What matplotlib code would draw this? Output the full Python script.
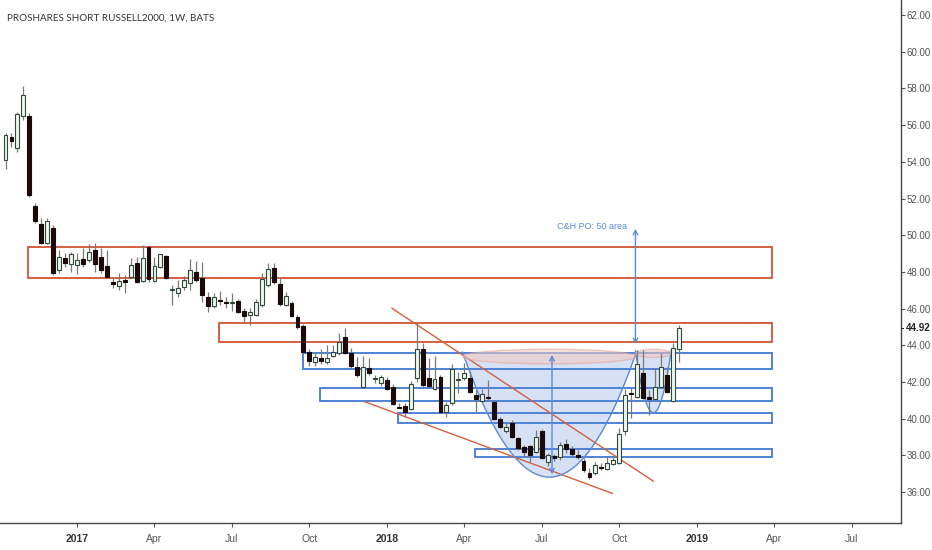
import numpy as np
import pandas as pd
import matplotlib
matplotlib.use('Agg')
import matplotlib.pyplot as plt
import matplotlib.dates as mdates
from matplotlib.patches import Rectangle, Ellipse
import matplotlib.transforms as mtransforms

# weekly bars, RWM (BATS)
start = '2016-10-10'
opens = [54.10, 55.35, 54.75, 56.50, 56.50, 51.59, 50.61, 49.57, 50.39, 48.10,
         48.76, 48.43, 48.38, 48.70, 48.65, 49.19, 48.81, 48.32, 47.45, 47.23,
         47.56, 47.72, 48.49, 47.50, 49.36, 47.50, 48.27, 48.87, 47.00, 46.85,
         47.18, 47.40, 47.99, 47.67, 46.63, 46.14, 46.47, 46.36, 46.30, 46.41,
         45.87, 45.65, 45.65, 46.20, 47.29, 48.21, 47.34, 46.20, 46.30, 45.54,
         45.05, 43.63, 43.09, 43.30, 43.09, 43.41, 43.58, 44.45, 43.58, 42.82,
         41.73, 42.76, 42.16, 41.95, 42.11, 41.73, 40.66, 40.69, 40.53, 42.22,
         43.80, 42.22, 41.62, 42.27, 40.36, 40.85, 42.10, 42.22, 42.22, 41.29,
         40.96, 41.18, 40.90, 39.98, 39.33, 39.77, 38.95, 38.46, 38.51, 38.18,
         39.33, 37.64, 37.97, 37.91, 38.62, 38.35, 38.02, 37.70, 37.04, 37.04,
         37.37, 37.26, 37.53, 37.59, 39.33, 41.40, 41.18, 42.49, 41.18, 41.07,
         41.73, 42.38, 40.96, 43.80]
highs = [55.57, 55.57, 56.71, 58.13, 56.66, 51.75, 50.94, 50.94, 50.56, 49.19,
         49.03, 49.08, 49.03, 49.30, 49.52, 49.57, 49.30, 49.19, 47.67, 47.94,
         47.83, 48.76, 48.81, 49.47, 49.47, 48.81, 49.00, 48.92, 47.28, 47.56,
         47.78, 48.70, 48.59, 48.54, 46.90, 46.85, 46.96, 46.63, 46.85, 46.52,
         46.03, 46.03, 46.52, 47.94, 48.49, 48.49, 47.72, 46.90, 46.41, 45.65,
         45.16, 43.80, 43.63, 43.80, 44.00, 44.00, 44.67, 44.94, 43.85, 43.36,
         43.41, 43.30, 42.38, 42.38, 42.27, 41.89, 40.85, 40.85, 42.05, 45.22,
         44.13, 43.30, 43.40, 42.38, 40.90, 43.00, 42.54, 43.03, 42.60, 41.56,
         41.62, 42.11, 41.02, 40.09, 39.82, 39.93, 39.00, 38.57, 38.57, 39.38,
         39.44, 38.13, 38.10, 38.73, 38.90, 38.50, 38.29, 37.86, 37.29, 37.64,
         37.59, 37.90, 37.90, 39.49, 41.60, 41.70, 43.74, 43.74, 41.56, 42.76,
         43.58, 42.82, 44.13, 45.10]
lows = [53.61, 54.80, 54.53, 56.28, 52.08, 50.66, 49.52, 49.52, 47.83, 47.94,
        48.27, 48.00, 47.89, 48.27, 48.54, 48.00, 47.94, 47.67, 47.12, 47.01,
        46.85, 47.67, 47.40, 47.45, 47.45, 47.45, 48.20, 47.60, 46.20, 46.63,
        47.01, 47.01, 47.45, 46.36, 45.81, 46.03, 46.20, 46.03, 45.87, 45.76,
        45.27, 45.11, 45.60, 46.09, 47.18, 47.34, 46.14, 46.14, 45.54, 44.89,
        43.55, 42.90, 42.90, 42.96, 42.96, 43.36, 43.47, 43.52, 42.76, 42.27,
        41.73, 42.38, 41.95, 41.78, 41.56, 40.74, 40.58, 40.09, 40.47, 42.00,
        41.73, 41.73, 41.56, 40.30, 40.10, 40.74, 41.40, 42.11, 41.40, 40.36,
        40.90, 41.02, 39.93, 39.49, 39.22, 38.95, 38.29, 37.98, 37.64, 38.13,
        37.80, 37.45, 37.70, 37.75, 38.13, 37.91, 37.80, 37.10, 36.74, 36.96,
        37.20, 37.20, 37.48, 37.53, 39.10, 40.04, 41.13, 41.07, 40.20, 41.02,
        41.67, 41.40, 40.90, 43.10]
closes = [55.46, 55.13, 56.60, 57.64, 52.19, 50.77, 49.57, 50.77, 47.94, 48.81,
          48.49, 48.98, 48.65, 48.43, 49.08, 48.43, 48.10, 47.72, 47.34, 47.50,
          47.45, 48.38, 47.45, 48.76, 47.61, 48.32, 48.98, 47.67, 47.05, 47.12,
          47.56, 48.10, 47.56, 46.74, 46.14, 46.63, 46.41, 46.30, 46.36, 45.81,
          45.59, 45.81, 46.36, 47.61, 48.16, 47.45, 46.25, 46.69, 45.60, 45.00,
          43.65, 43.14, 43.36, 43.14, 43.31, 43.63, 44.18, 43.58, 42.87, 42.38,
          42.82, 42.49, 42.20, 42.27, 41.62, 40.80, 40.58, 40.36, 41.89, 43.80,
          41.84, 41.78, 42.16, 40.36, 40.74, 42.71, 42.15, 42.49, 41.46, 41.07,
          41.35, 41.13, 39.98, 39.55, 39.55, 39.00, 38.40, 38.18, 38.02, 39.00,
          37.86, 38.02, 37.86, 38.57, 38.35, 38.08, 37.91, 37.20, 36.82, 37.48,
          37.31, 37.59, 37.75, 39.17, 41.29, 41.35, 42.98, 41.13, 41.07, 41.73,
          42.82, 41.46, 43.85, 44.92]

tick_dates = ['2017-01-02', '2017-04-03', '2017-07-03', '2017-10-02', '2018-01-01',
              '2018-04-02', '2018-07-02', '2018-10-01', '2018-12-31', '2019-04-01',
              '2019-07-01']
tick_labels = ['2017', 'Apr', 'Jul', 'Oct', '2018', 'Apr', 'Jul', 'Oct', '2019', 'Apr', 'Jul']
y_ticks = list(range(36, 63, 2))
last_price = 44.92

# drawn zones: (left date, bottom, top)
red_zones = [('2016-11-05', 47.68, 49.37), ('2017-06-18', 44.20, 45.20)]
blue_zones = [('2017-09-24', 42.69, 43.56), ('2017-10-15', 40.96, 41.66),
              ('2018-01-14', 39.77, 40.34), ('2018-04-15', 37.90, 38.37)]
zone_end = '2019-03-30'
trend_lines = [(('2018-01-07', 46.02), ('2018-11-10', 36.60)),
               (('2017-12-06', 40.93), ('2018-09-23', 35.93))]

dates = pd.date_range(start, periods=len(opens), freq='W-MON')
o = np.array(opens); h = np.array(highs); l = np.array(lows); c = np.array(closes)
up = c >= o

fig = plt.figure(figsize=(9.32, 5.5), dpi=100)
fig.patch.set_facecolor('white')
ax = fig.add_axes([0, 1 - 523 / 550, 901 / 932, 523 / 550])
ax.set_facecolor('white')

x = mdates.date2num(dates)
ax.vlines(x, l, h, color='#7a7a7a', lw=0.9, zorder=3)
body_lo = np.minimum(o, c)
body_h = np.maximum(np.abs(c - o), 0.06)
ax.bar(x[up], body_h[up], bottom=body_lo[up], width=4.6, color='#eef6f0',
       edgecolor='#2f4a38', linewidth=0.8, zorder=4)
ax.bar(x[~up], body_h[~up], bottom=body_lo[~up], width=4.6, color='#1a0a0a',
       edgecolor='#1a0a0a', linewidth=0.8, zorder=4)

xe = mdates.date2num(pd.Timestamp(zone_end))
for d0, lo, hi in red_zones:
    x0 = mdates.date2num(pd.Timestamp(d0))
    ax.add_patch(Rectangle((x0, lo), xe - x0, hi - lo, fill=False,
                           edgecolor='#d4603f', lw=1.4, zorder=2))
for d0, lo, hi in blue_zones:
    x0 = mdates.date2num(pd.Timestamp(d0))
    ax.add_patch(Rectangle((x0, lo), xe - x0, hi - lo, fill=False,
                           edgecolor='#4f82d6', lw=1.4, zorder=2))
for (d0, p0), (d1, p1) in trend_lines:
    ax.plot([pd.Timestamp(d0), pd.Timestamp(d1)], [p0, p1], color='#d4603f', lw=1.0, zorder=2)

# cup and handle
def cup(center, half, rim, bottom, rim_h):
    xc = mdates.date2num(pd.Timestamp(center))
    u = np.linspace(-1, 1, 200)
    xs = xc + u * half
    ys = rim - (rim - bottom) * (1 - u ** 2)
    ax.fill_between(xs, ys, rim, color='#c9d8f2', alpha=0.75, lw=0, zorder=1)
    ax.plot(xs, ys, color='#5b8ad8', lw=1.0, zorder=2)
    ax.add_patch(Ellipse((xc, rim - rim_h * 0.3), 2 * half, rim_h, facecolor='#f2c9c0',
                         edgecolor='#e3a296', alpha=0.55, lw=1.0, zorder=2))

cup('2018-07-11', 102, 43.63, 36.82, 0.8)
cup('2018-11-10', 21, 43.70, 40.33, 0.45)

ax.annotate('', xy=(pd.Timestamp('2018-07-14'), 43.63), xytext=(pd.Timestamp('2018-07-14'), 36.82),
            arrowprops=dict(arrowstyle='<->', color='#5b8ad8', lw=1.0, mutation_scale=8), zorder=5)
ax.annotate('', xy=(pd.Timestamp('2018-10-20'), 50.50), xytext=(pd.Timestamp('2018-10-20'), 43.92),
            arrowprops=dict(arrowstyle='<->', color='#5b8ad8', lw=1.0, mutation_scale=8), zorder=5)
ax.text(pd.Timestamp('2018-10-10'), 50.5, 'C&H PO: 50 area', color='#5b8ad8',
        fontsize=6.5, ha='right', va='center', family='Liberation Sans')

ax.set_xlim(pd.Timestamp(start) - pd.Timedelta(days=6.5), pd.Timestamp(start) + pd.Timedelta(days=1052))
ax.set_ylim(34.32, 62.82)

ax.yaxis.tick_right()
ax.set_yticks(y_ticks)
ax.set_yticklabels(['%.2f' % v for v in y_ticks])
ax.set_xticks([pd.Timestamp(d) for d in tick_dates])
ax.set_xticklabels(tick_labels)
for lab in ax.get_xticklabels():
    lab.set_family('Liberation Sans')
    lab.set_fontsize(7.5)
    if lab.get_text().isdigit():
        lab.set_fontweight('bold')
        lab.set_color('#333333')
    else:
        lab.set_color('#555555')
ax.tick_params(axis='y', length=3, width=0.8, color='#555555', labelsize=7,
               labelcolor='#555555', pad=1)
ax.tick_params(axis='x', length=3, width=0.8, color='#555555', pad=5)
for lab in ax.get_yticklabels():
    lab.set_family('Liberation Sans')

for s in ['top', 'left']:
    ax.spines[s].set_visible(False)
for s in ['right', 'bottom']:
    ax.spines[s].set_color('#444444')
    ax.spines[s].set_linewidth(1.0)

# last price marker on the scale
trans = mtransforms.blended_transform_factory(ax.transAxes, ax.transData)
ax.plot([1.0, 1.0 + 3 / 901], [last_price, last_price], transform=trans, color='#222222',
        lw=0.8, clip_on=False)
ax.text(1.0 + 4.5 / 901, last_price, '%.2f' % last_price, transform=trans, ha='left', va='center',
        fontsize=7, fontweight='bold', color='#222222', family='Liberation Sans',
        bbox=dict(facecolor='white', edgecolor='none', pad=0.8), clip_on=False)

ax.text(0.008, 0.966, 'PROSHARES SHORT RUSSELL2000, 1W, BATS', transform=ax.transAxes,
        fontsize=7.1, color='#333333', family='Lato', ha='left', va='center')

fig.savefig('out.png', dpi=100)
